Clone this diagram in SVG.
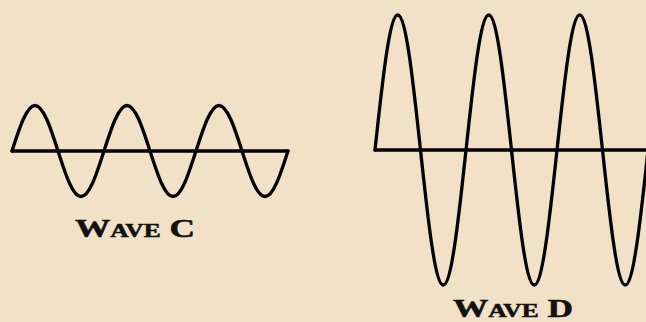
<svg xmlns="http://www.w3.org/2000/svg" width="646" height="322" viewBox="0 0 646 322">
<style>
.w{fill:none;stroke:#000;stroke-width:3.3;stroke-linejoin:round;stroke-linecap:round}
.lbl{font-family:"Liberation Serif",serif;font-weight:bold;fill:#111;text-anchor:middle;stroke:#111;stroke-width:0.5}
.big{font-size:25px}
.sm{font-size:18px}
</style>
<rect width="646" height="322" fill="#f0e1c7"/>
<g id="waveC">
<line class="w" x1="12" y1="151" x2="288" y2="151"/>
<path class="w" d="M12,151 c7.69,-23.89 14.71,-45.5 23,-45.5 s15.310,21.61 23,45.5 s14.71,45.5 23,45.5 s15.31,-21.61 23,-45.5 s14.71,-45.5 23,-45.5 s15.31,21.61 23,45.5 s14.71,45.5 23,45.5 s15.31,-21.61 23,-45.5 s14.71,-45.5 23,-45.5 s15.31,21.61 23,45.5 s14.71,45.5 23,45.5 s15.31,-21.61 23,-45.5"/>
<text class="lbl" x="135" y="237" textLength="120" lengthAdjust="spacingAndGlyphs"><tspan class="big">W</tspan><tspan class="sm">AVE</tspan><tspan class="big"> C</tspan></text>
</g>
<g id="waveD">
<line class="w" x1="375" y1="150" x2="648" y2="150"/>
<path class="w" d="M375,150 c7.61,-70.89 14.55,-135 22.75,-135 s15.14,64.11 22.75,135 s14.55,135 22.75,135 s15.14,-64.11 22.75,-135 s14.55,-135 22.75,-135 s15.14,64.11 22.75,135 s14.55,135 22.75,135 s15.14,-64.11 22.75,-135 s14.55,-135 22.75,-135 s15.14,64.11 22.75,135 s14.55,135 22.75,135 s15.14,-64.11 22.75,-135"/>
<text class="lbl" x="513" y="317" textLength="120" lengthAdjust="spacingAndGlyphs"><tspan class="big">W</tspan><tspan class="sm">AVE</tspan><tspan class="big"> D</tspan></text>
</g>
</svg>
